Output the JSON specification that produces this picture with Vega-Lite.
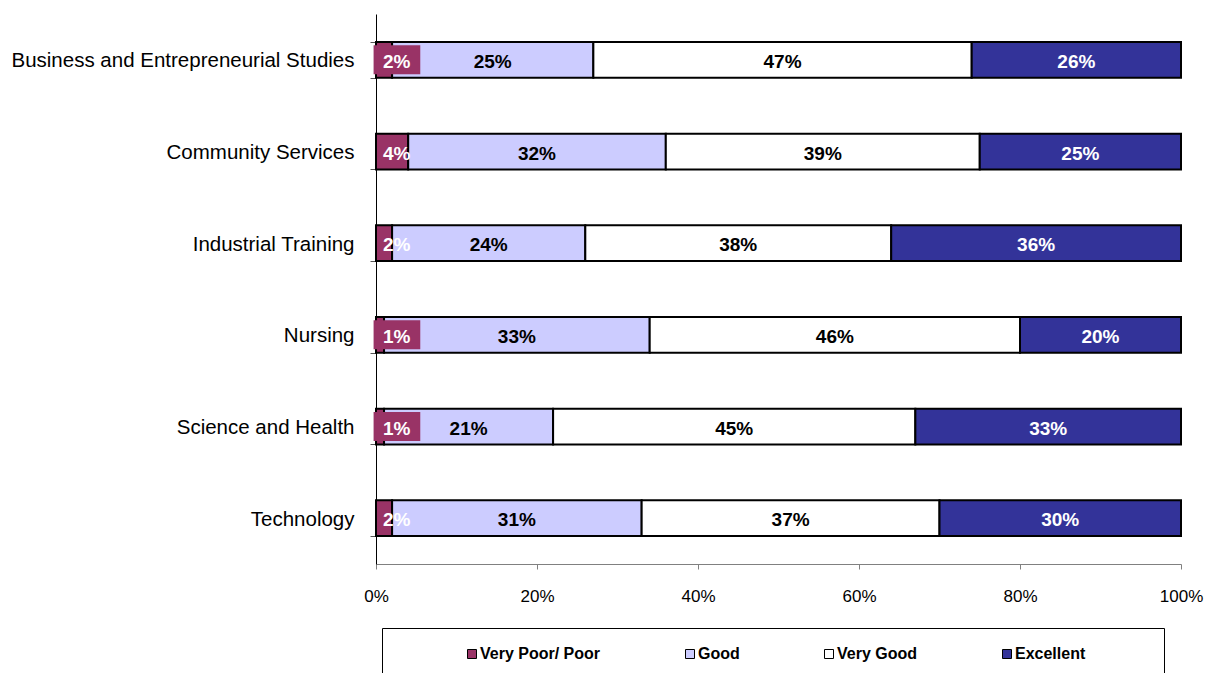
{
  "$schema": "https://vega.github.io/schema/vega-lite/v6.json",
  "width": 805,
  "height": 550,
  "autosize": {"type": "none"},
  "padding": {"left": 376, "top": 14, "right": 27, "bottom": 109},
  "background": "white",
  "config": {
    "view": {"stroke": null},
    "font": "Liberation Sans",
    "axis": {"grid": false, "labelFont": "Liberation Sans", "labelColor": "black"}
  },
  "data": {
    "values": [
      {"category": "Business and Entrepreneurial Studies", "rating": "Very Poor/ Poor", "value": 0.02},
      {"category": "Business and Entrepreneurial Studies", "rating": "Good", "value": 0.25},
      {"category": "Business and Entrepreneurial Studies", "rating": "Very Good", "value": 0.47},
      {"category": "Business and Entrepreneurial Studies", "rating": "Excellent", "value": 0.26},
      {"category": "Community Services", "rating": "Very Poor/ Poor", "value": 0.04},
      {"category": "Community Services", "rating": "Good", "value": 0.32},
      {"category": "Community Services", "rating": "Very Good", "value": 0.39},
      {"category": "Community Services", "rating": "Excellent", "value": 0.25},
      {"category": "Industrial Training", "rating": "Very Poor/ Poor", "value": 0.02},
      {"category": "Industrial Training", "rating": "Good", "value": 0.24},
      {"category": "Industrial Training", "rating": "Very Good", "value": 0.38},
      {"category": "Industrial Training", "rating": "Excellent", "value": 0.36},
      {"category": "Nursing", "rating": "Very Poor/ Poor", "value": 0.01},
      {"category": "Nursing", "rating": "Good", "value": 0.33},
      {"category": "Nursing", "rating": "Very Good", "value": 0.46},
      {"category": "Nursing", "rating": "Excellent", "value": 0.20},
      {"category": "Science and Health", "rating": "Very Poor/ Poor", "value": 0.01},
      {"category": "Science and Health", "rating": "Good", "value": 0.21},
      {"category": "Science and Health", "rating": "Very Good", "value": 0.45},
      {"category": "Science and Health", "rating": "Excellent", "value": 0.33},
      {"category": "Technology", "rating": "Very Poor/ Poor", "value": 0.02},
      {"category": "Technology", "rating": "Good", "value": 0.31},
      {"category": "Technology", "rating": "Very Good", "value": 0.37},
      {"category": "Technology", "rating": "Excellent", "value": 0.30}
    ]
  },
  "transform": [
    {"calculate": "indexof(['Very Poor/ Poor','Good','Very Good','Excellent'], datum.rating)", "as": "ord"},
    {"stack": "value", "groupby": ["category"], "sort": [{"field": "ord", "order": "ascending"}], "as": ["x0", "x1"]},
    {"calculate": "(datum.x0 + datum.x1) / 2", "as": "mid"}
  ],
  "encoding": {
    "y": {
      "field": "category",
      "type": "nominal",
      "sort": ["Business and Entrepreneurial Studies", "Community Services", "Industrial Training", "Nursing", "Science and Health", "Technology"],
      "scale": {"paddingInner": 0.61, "paddingOuter": 0.305},
      "axis": {
        "title": null,
        "tickBand": "extent",
        "domainColor": "black",
        "domainWidth": 1,
        "tickColor": "#555555",
        "tickSize": 6,
        "labelPadding": 16,
        "labelFontSize": 20.5,
        "labelOffset": 1,
        "labelLimit": 400
      }
    }
  },
  "layer": [
    {
      "mark": {"type": "bar", "stroke": "black", "strokeWidth": 2},
      "encoding": {
        "x": {
          "field": "x0",
          "type": "quantitative",
          "scale": {"domain": [0, 1], "nice": false},
          "axis": {
            "title": null,
            "format": ".0%",
            "values": [0, 0.2, 0.4, 0.6, 0.8, 1],
            "labelFlush": false,
            "domainColor": "#808080",
            "tickColor": "#808080",
            "tickSize": 5,
            "labelFontSize": 17,
            "labelPadding": 19
          }
        },
        "x2": {"field": "x1"},
        "fill": {
          "field": "rating",
          "type": "nominal",
          "scale": {
            "domain": ["Very Poor/ Poor", "Good", "Very Good", "Excellent"],
            "range": ["#993366", "#CCCCFF", "#FFFFFF", "#333399"]
          },
          "legend": {
            "orient": "none",
            "legendX": 6,
            "legendY": 614,
            "direction": "horizontal",
            "title": " ",
            "titleOrient": "left",
            "titleFontSize": 1,
            "titlePadding": 64,
            "padding": 18,
            "strokeColor": "black",
            "symbolType": "square",
            "symbolSize": 81,
            "symbolStrokeColor": "black",
            "symbolStrokeWidth": 1,
            "labelFont": "Liberation Sans",
            "labelFontSize": 16,
            "labelFontWeight": "bold",
            "labelColor": "black",
            "labelOffset": 0,
            "labelLimit": 400,
            "columnPadding": 81,
            "labelExpr": "datum.label == 'Excellent' ? 'Excellent\u2800\u2800\u2800\u2800\u2800' : datum.label"
          }
        }
      }
    },
    {
      "transform": [
        {"filter": "datum.rating == 'Very Poor/ Poor'"},
        {"filter": {"field": "category", "oneOf": ["Business and Entrepreneurial Studies", "Nursing", "Science and Health"]}}
      ],
      "mark": {"type": "bar", "fill": "#993366", "size": 29},
      "encoding": {
        "x": {"datum": -0.003, "type": "quantitative"},
        "x2": {"datum": 0.055}
      }
    },
    {
      "transform": [{"filter": "datum.rating != 'Very Poor/ Poor'"}],
      "mark": {"type": "text", "font": "Liberation Sans", "fontSize": 19, "fontWeight": "bold", "baseline": "middle", "dy": 2},
      "encoding": {
        "x": {"field": "mid", "type": "quantitative"},
        "text": {"field": "value", "type": "quantitative", "format": ".0%"},
        "color": {"condition": {"test": "datum.rating == 'Excellent'", "value": "white"}, "value": "black"}
      }
    },
    {
      "transform": [{"filter": "datum.rating == 'Very Poor/ Poor'"}],
      "mark": {"type": "text", "font": "Liberation Sans", "fontSize": 19, "fontWeight": "bold", "baseline": "middle", "align": "left", "dx": 7, "dy": 2, "color": "white"},
      "encoding": {
        "x": {"datum": 0, "type": "quantitative"},
        "text": {"field": "value", "type": "quantitative", "format": ".0%"}
      }
    }
  ]
}
